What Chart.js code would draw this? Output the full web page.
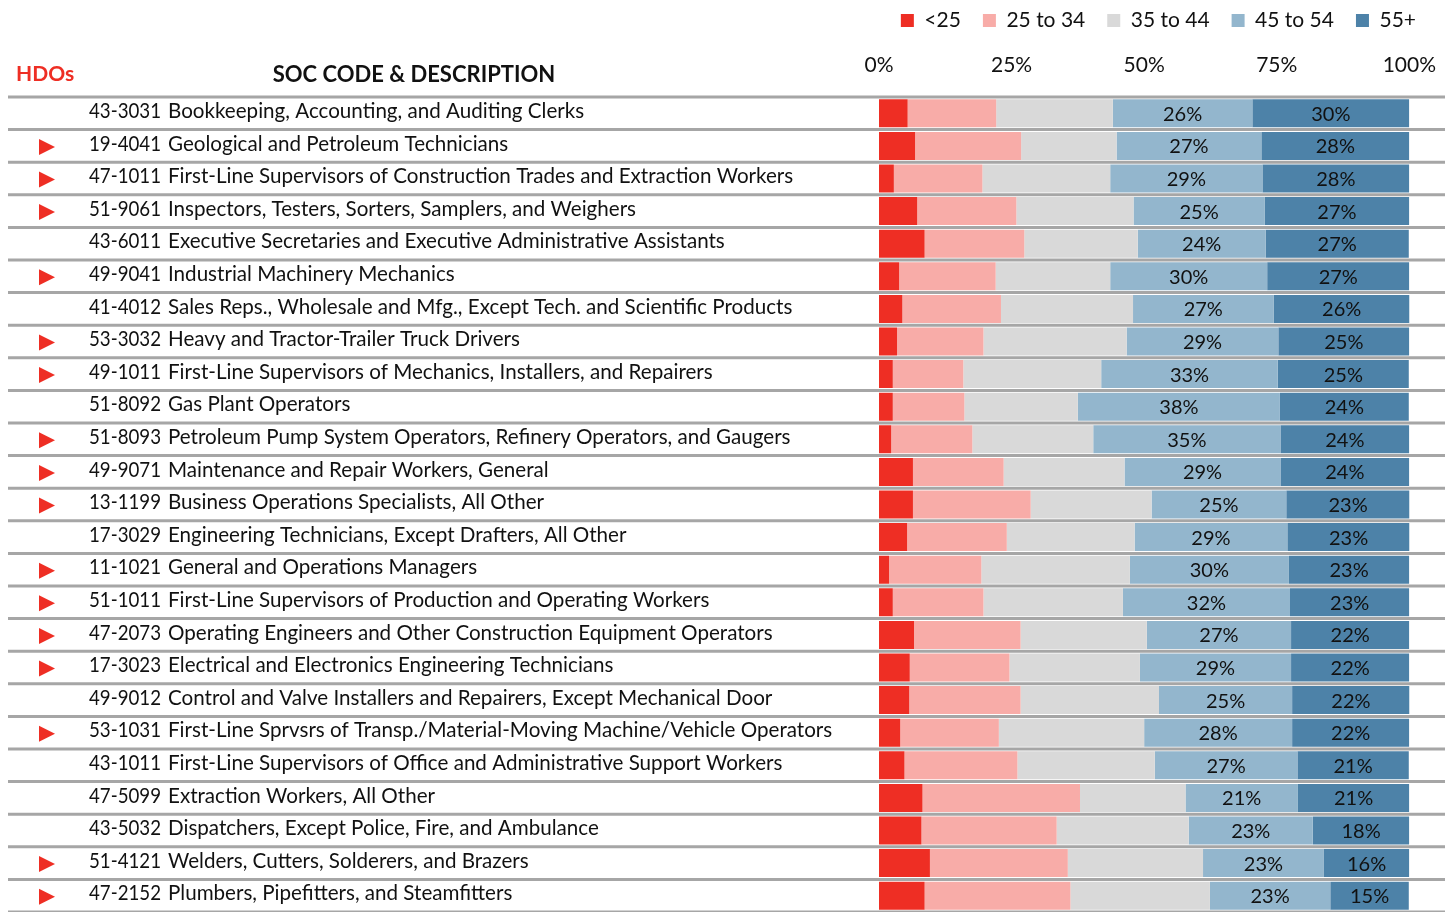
<!DOCTYPE html>
<html>
<head>
<meta charset="utf-8">
<script src="https://cdn.jsdelivr.net/npm/chart.js@4.4.0/dist/chart.umd.min.js"></script>
<style>
  html, body { margin: 0; padding: 0; background: #fff; }
  #wrap { width: 1455px; height: 912px; position: relative; }
</style>
</head>
<body>
<div id="wrap"><canvas id="chart"></canvas></div>
<script>
// occupations (SOC code + description), HDO flag
const codes = ['43-3031', '19-4041', '47-1011', '51-9061', '43-6011', '49-9041', '41-4012', '53-3032', '49-1011', '51-8092',
  '51-8093', '49-9071', '13-1199', '17-3029', '11-1021', '51-1011', '47-2073', '17-3023', '49-9012', '53-1031',
  '43-1011', '47-5099', '43-5032', '51-4121', '47-2152'];
const descriptions = [
  'Bookkeeping, Accounting, and Auditing Clerks',
  'Geological and Petroleum Technicians',
  'First-Line Supervisors of Construction Trades and Extraction Workers',
  'Inspectors, Testers, Sorters, Samplers, and Weighers',
  'Executive Secretaries and Executive Administrative Assistants',
  'Industrial Machinery Mechanics',
  'Sales Reps., Wholesale and Mfg., Except Tech. and Scientific Products',
  'Heavy and Tractor-Trailer Truck Drivers',
  'First-Line Supervisors of Mechanics, Installers, and Repairers',
  'Gas Plant Operators',
  'Petroleum Pump System Operators, Refinery Operators, and Gaugers',
  'Maintenance and Repair Workers, General',
  'Business Operations Specialists, All Other',
  'Engineering Technicians, Except Drafters, All Other',
  'General and Operations Managers',
  'First-Line Supervisors of Production and Operating Workers',
  'Operating Engineers and Other Construction Equipment Operators',
  'Electrical and Electronics Engineering Technicians',
  'Control and Valve Installers and Repairers, Except Mechanical Door',
  'First-Line Sprvsrs of Transp./Material-Moving Machine/Vehicle Operators',
  'First-Line Supervisors of Office and Administrative Support Workers',
  'Extraction Workers, All Other',
  'Dispatchers, Except Police, Fire, and Ambulance',
  'Welders, Cutters, Solderers, and Brazers',
  'Plumbers, Pipefitters, and Steamfitters'
];
const isHDO = [false, true, true, true, false, true, false, true, true, false,
  true, true, true, false, true, true, true, true, false, true,
  false, false, false, true, true];

// age group shares, percent
const ageGroups = ['<25', '25 to 34', '35 to 44', '45 to 54', '55+'];
const under25 = [5.4, 6.8, 2.8, 7.2, 8.6, 3.8, 4.4, 3.4, 2.6, 2.6, 2.3, 6.4, 6.4, 5.3, 1.9, 2.6, 6.6, 5.8, 5.7, 4.0, 4.8, 8.2, 8.0, 9.6, 8.6];
const age25to34 = [16.7, 20.0, 16.7, 18.7, 18.8, 18.2, 18.6, 16.3, 13.3, 13.5, 15.3, 17.1, 22.2, 18.8, 17.4, 17.1, 20.1, 18.8, 21.0, 18.6, 21.3, 29.7, 25.5, 26.0, 27.5];
const age35to44 = [22.0, 18.0, 24.1, 22.1, 21.4, 21.6, 24.9, 27.0, 26.0, 21.4, 22.8, 22.8, 22.8, 24.1, 28.0, 26.3, 23.8, 24.6, 26.1, 27.4, 25.9, 19.9, 24.9, 25.5, 26.3];
const age45to54 = [26.3, 27.3, 28.7, 24.7, 24.1, 29.6, 26.5, 28.6, 33.3, 38.1, 35.3, 29.4, 25.4, 28.8, 30.0, 31.5, 27.2, 28.5, 25.1, 27.9, 26.9, 21.2, 23.4, 22.8, 22.7];
const age55plus = [29.6, 27.9, 27.7, 27.3, 27.0, 26.8, 25.7, 24.7, 24.7, 24.3, 24.3, 24.3, 23.3, 23.1, 22.7, 22.5, 22.3, 22.3, 22.2, 22.1, 21.0, 21.0, 18.2, 16.1, 14.8];
const xTicks = [0, 25, 50, 75, 100];

const colors = ['#ee2e24', '#f8aca8', '#d9d9d9', '#93b6cd', '#4d82a8'];
const FONT = 'Lato, "Open Sans", sans-serif';
const TEXT = '#111111';
const LAYOUT_TOP = -12;

// horizontal separators running across labels and bars
const rowLines = {
  id: 'rowLines',
  beforeDatasetsDraw(chart) {
    const ctx = chart.ctx;
    const y = chart.scales.y;
    const pitch = y.getPixelForValue(1) - y.getPixelForValue(0);
    ctx.save();
    ctx.strokeStyle = '#a6a6a6';
    ctx.lineWidth = 3;
    for (let i = 0; i <= codes.length; i++) {
      const py = y.getPixelForValue(i) - pitch / 2;
      ctx.beginPath();
      ctx.moveTo(8, py);
      ctx.lineTo(1445, py);
      ctx.stroke();
    }
    ctx.restore();
  }
};

// left table: HDO markers, codes, descriptions, headers
const leftTable = {
  id: 'leftTable',
  afterDraw(chart) {
    const ctx = chart.ctx;
    const y = chart.scales.y;
    ctx.save();
    ctx.textBaseline = 'middle';
    ctx.textAlign = 'left';
    ctx.font = 'bold 21px ' + FONT;
    ctx.fillStyle = '#ee2e24';
    ctx.fillText('HDOs', 16, 74);
    ctx.fillStyle = TEXT;
    ctx.textAlign = 'center';
    ctx.font = 'bold 22px ' + FONT;
    ctx.fillText('SOC CODE & DESCRIPTION', 414, 75);
    ctx.textAlign = 'left';
    ctx.font = '20.6px ' + FONT;
    codes.forEach((code, i) => {
      const py = y.getPixelForValue(i);
      ctx.fillStyle = TEXT;
      ctx.fillText(code, 89, py - 2, 72);
      ctx.fillText(descriptions[i], 168, py - 2);
      if (isHDO[i]) {
        ctx.fillStyle = '#ee2e24';
        ctx.beginPath();
        ctx.moveTo(39, py - 7);
        ctx.lineTo(55, py + 1);
        ctx.lineTo(39, py + 9);
        ctx.closePath();
        ctx.fill();
      }
    });
    ctx.restore();
  }
};

// percent labels on the two older groups
const segmentLabels = {
  id: 'segmentLabels',
  afterDatasetsDraw(chart) {
    const ctx = chart.ctx;
    ctx.save();
    ctx.font = '20px ' + FONT;
    ctx.fillStyle = TEXT;
    ctx.textAlign = 'center';
    ctx.textBaseline = 'middle';
    [3, 4].forEach(di => {
      const meta = chart.getDatasetMeta(di);
      const values = chart.data.datasets[di].data;
      meta.data.forEach((bar, i) => {
        ctx.fillText(Math.round(values[i]) + '%', (bar.x + bar.base) / 2, bar.y + 1);
      });
    });
    ctx.restore();
  }
};

const seriesValues = [under25, age25to34, age35to44, age45to54, age55plus];

new Chart(document.getElementById('chart'), {
  type: 'bar',
  data: {
    labels: codes,
    datasets: ageGroups.map((g, i) => ({
      label: g,
      data: seriesValues[i],
      backgroundColor: colors[i],
      borderWidth: 0,
      barPercentage: 0.86,
      categoryPercentage: 1
    }))
  },
  options: {
    indexAxis: 'y',
    responsive: true,
    maintainAspectRatio: false,
    animation: false,
    layout: { padding: { left: 0, right: 17, top: LAYOUT_TOP, bottom: 0 } },
    scales: {
      x: {
        stacked: true,
        position: 'top',
        min: 0,
        max: 100,
        afterBuildTicks(scale) { scale.ticks = xTicks.map(v => ({ value: v })); },
        afterFit(scale) { scale.height = 97 - LAYOUT_TOP - scale.chart.legend.height; },
        ticks: {
          callback: v => v + '%',
          color: TEXT,
          font: { family: FONT, size: 21 },
          padding: 19,
          maxRotation: 0
        },
        grid: { display: false, drawTicks: false },
        border: { display: false }
      },
      y: {
        stacked: true,
        display: true,
        afterFit(scale) { scale.width = 879; },
        ticks: { display: false },
        grid: { display: false, drawTicks: false },
        border: { display: false }
      },
      yPad: {
        type: 'linear',
        position: 'right',
        display: true,
        afterFit(scale) { scale.width = 27; },
        ticks: { display: false },
        grid: { display: false, drawTicks: false },
        border: { display: false }
      }
    },
    plugins: {
      legend: {
        position: 'top',
        align: 'end',
        labels: {
          boxWidth: 13,
          boxHeight: 13,
          padding: 22,
          color: TEXT,
          font: { family: FONT, size: 21 }
        }
      },
      tooltip: { enabled: false }
    }
  },
  plugins: [rowLines, segmentLabels, leftTable]
});
</script>
</body>
</html>
